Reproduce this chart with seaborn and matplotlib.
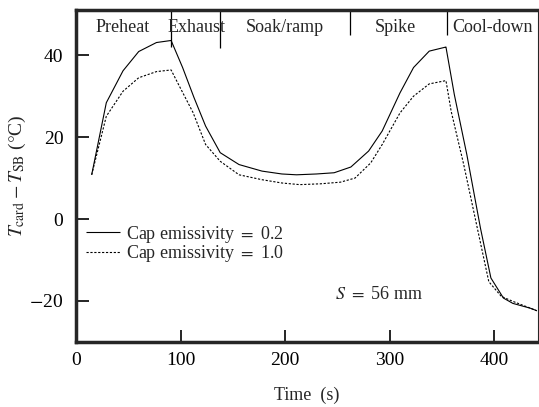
import seaborn as sns
import numpy as np
import pandas as pd
import matplotlib.pyplot as plt

# time points (s) and temperature difference (C) for the two cap emissivities
time_low = [15, 29, 45, 60, 77, 91, 102, 113, 124, 138, 156, 178, 197, 211, 230, 247,
            263, 280, 293, 310, 323, 338, 354, 362, 374, 387, 397, 409, 418, 435, 441]
temp_low = [10.8, 28.4, 36.2, 40.9, 43.1, 43.6, 37.0, 29.6, 22.7, 16.2, 13.3, 11.7, 11.0,
            10.8, 11.0, 11.3, 12.7, 16.6, 21.5, 30.8, 37.0, 41.0, 42.0, 30.4, 15.7, -2.2,
            -14.4, -19.3, -20.6, -21.8, -22.4]
time_high = [15, 29, 45, 60, 77, 91, 98, 112, 124, 138, 156, 178, 197, 214, 234, 253,
             267, 282, 293, 310, 323, 338, 354, 359, 371, 386, 395, 407, 418, 435, 441]
temp_high = [10.8, 25.1, 31.2, 34.5, 36.0, 36.4, 32.9, 26.0, 18.2, 14.1, 10.8, 9.6, 8.8,
             8.4, 8.6, 9.0, 10.0, 13.7, 18.2, 25.9, 30.0, 33.0, 33.8, 26.3, 13.3, -4.6,
             -15.3, -18.9, -20.1, -21.8, -22.4]

phase_names = ['Preheat', 'Exhaust', 'Soak/ramp', 'Spike', 'Cool-down']
phase_centers = [45, 115, 200, 306, 399]
phase_bounds = [91, 138, 262, 355]

df = pd.concat([
    pd.DataFrame({'time': time_low, 'temp': temp_low, 'series': 'Cap emissivity $=$ 0.2'}),
    pd.DataFrame({'time': time_high, 'temp': temp_high, 'series': 'Cap emissivity $=$ 1.0'}),
])

sns.set_style('ticks')
plt.rcParams['font.family'] = ['Liberation Serif', 'DejaVu Serif']
plt.rcParams['mathtext.fontset'] = 'stix'

fig = plt.figure(figsize=(5.39, 4.07), dpi=100)
ax = fig.add_axes([0.141, 0.16, 0.857, 0.815])

sns.lineplot(data=df, x='time', y='temp', style='series', color='black',
             dashes=[(1, 0), (2, 1.5)], linewidth=0.8, sort=False,
             estimator=None, ax=ax)

ax.set_xlim(0, 442)
ax.set_ylim(-30, 51)
ax.set_xticks([0, 100, 200, 300, 400])
ax.set_yticks([-20, 0, 20, 40])
ax.set_yticklabels(['$-$20', '0', '20', '40'])
ax.tick_params(direction='in', length=9, width=1.2, labelsize=14, colors='black')
ax.tick_params(axis='x', pad=7)
ax.tick_params(axis='y', pad=9)
for side in ['left', 'bottom', 'top']:
    ax.spines[side].set_linewidth(2.5)
ax.spines['right'].set_linewidth(0.8)

ax.set_xlabel('Time  (s)', fontsize=13, labelpad=13)
ax.set_ylabel(r'$T_{\rm card} - T_{\rm SB}$ ($\degree$C)', fontsize=14, labelpad=1)

# phase labels along the top
for name, xc in zip(phase_names, phase_centers):
    ax.text(xc, 46.7, name, ha='center', va='center', fontsize=13)
ax.vlines(phase_bounds[0], 42.0, 51, color='black', lw=0.9)
ax.vlines(phase_bounds[1], 41.8, 51, color='black', lw=0.9)
ax.vlines(phase_bounds[2], 45, 51, color='black', lw=0.9)
ax.vlines(phase_bounds[3], 45, 51, color='black', lw=0.9)

ax.text(248, -18.5, '$S$ $=$ 56 mm', fontsize=13, va='center')

ax.legend(loc='upper left', bbox_to_anchor=(-0.014, 0.405), frameon=False,
          fontsize=13, handlelength=1.9, handletextpad=0.35, labelspacing=-0.1,
          title=None)

fig.savefig('out.png', dpi=100)
